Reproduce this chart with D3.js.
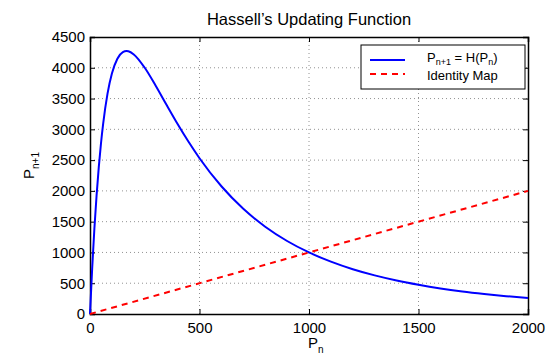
<!DOCTYPE html>
<html><head><meta charset="utf-8">
<script src="https://cdn.jsdelivr.net/npm/d3@7"></script>
<style>body{margin:0;background:#fff}svg{font-family:"Liberation Sans",Arial,sans-serif}</style>
</head><body><svg id="c" width="547" height="358"></svg>
<script>
const pn = [0,10,20,30,40,50,60,80,100,125,150,167,175,200,250,300,350,400,450,500,600,700,800,900,1000,1100,1200,1300,1400,1500,1600,1700,1800,1900,2000];
const hVals = [0,748,1385,1925,2381,2766,3089,3579,3906,4147,4254,4271,4268,4217,4000,3708,3394,3086,2797,2531,2075,1709,1418,1186,1000,850,727,627,544,475,416,367,326,290,259];
const identX = [0,2000];
const identY = [0,2000];
const xTicks = [0,500,1000,1500,2000];
const yTicks = [0,500,1000,1500,2000,2500,3000,3500,4000,4500];

const svg = d3.select("#c");
const L=90,R=528,T=37,B=314;
const x = d3.scaleLinear().domain([0,2000]).range([L,R]);
const y = d3.scaleLinear().domain([0,4500]).range([B,T]);

// grid
const g = svg.append("g");
g.selectAll(".gx").data(xTicks.slice(1,-1)).join("line")
 .attr("x1",d=>x(d)).attr("x2",d=>x(d)).attr("y1",T).attr("y2",B)
 .attr("stroke","#777").attr("stroke-width",0.8).attr("stroke-dasharray","1,3");
g.selectAll(".gy").data(yTicks.slice(1,-1)).join("line")
 .attr("y1",d=>y(d)).attr("y2",d=>y(d)).attr("x1",L).attr("x2",R)
 .attr("stroke","#777").attr("stroke-width",0.8).attr("stroke-dasharray","1,3");

// axes
const ax = svg.append("g").attr("transform",`translate(0,${B})`)
 .call(d3.axisBottom(x).tickValues(xTicks).tickSize(-5).tickPadding(8).tickFormat(d3.format("d")));
const ay = svg.append("g").attr("transform",`translate(${L},0)`)
 .call(d3.axisLeft(y).tickValues(yTicks).tickSize(-5).tickPadding(5).tickFormat(d3.format("d")));
const axT = svg.append("g").attr("transform",`translate(0,${T})`)
 .call(d3.axisTop(x).tickValues(xTicks).tickSize(-5).tickFormat(""));
const ayR = svg.append("g").attr("transform",`translate(${R},0)`)
 .call(d3.axisRight(y).tickValues(yTicks).tickSize(-5).tickFormat(""));
[ax,ay,axT,ayR].forEach(a=>{
  a.selectAll("text").attr("font-size",15).attr("fill","#000").attr("font-family","Liberation Sans, Arial, sans-serif");
  a.select(".domain").attr("stroke","#000").attr("stroke-width",1.5);
  a.selectAll(".tick line").attr("stroke","#000");
});

// lines
const line = d3.line().x(d=>x(d[0])).y(d=>y(d[1])).curve(d3.curveMonotoneX);
svg.append("path").datum(pn.map((p,i)=>[p,hVals[i]])).attr("d",line)
 .attr("fill","none").attr("stroke","#0000ff").attr("stroke-width",2);
svg.append("path").datum(identX.map((p,i)=>[p,identY[i]])).attr("d",line)
 .attr("fill","none").attr("stroke","#ff0000").attr("stroke-width",2).attr("stroke-dasharray","6,5");

// title & labels
svg.append("text").attr("x",309).attr("y",25).attr("text-anchor","middle").attr("font-size",16.5).text("Hassell\u2019s Updating Function");
const xl = svg.append("text").attr("x",308).attr("y",348).attr("font-size",15);
xl.append("tspan").text("P");
xl.append("tspan").attr("font-size",10).attr("dy",5).text("n");
const yl = svg.append("text").attr("transform","translate(34,179) rotate(-90)").attr("font-size",15);
yl.append("tspan").text("P");
yl.append("tspan").attr("font-size",10).attr("dy",5).text("n+1");

// legend
const lg = svg.append("g");
lg.append("rect").attr("x",361).attr("y",45).attr("width",164).attr("height",44).attr("fill","#fff").attr("stroke","#000").attr("stroke-width",1);
lg.append("line").attr("x1",370).attr("x2",405).attr("y1",60).attr("y2",60).attr("stroke","#0000ff").attr("stroke-width",2);
lg.append("line").attr("x1",370).attr("x2",405).attr("y1",74).attr("y2",74).attr("stroke","#ff0000").attr("stroke-width",2).attr("stroke-dasharray","6,5");
const t1 = lg.append("text").attr("x",427).attr("y",62).attr("font-size",13);
t1.append("tspan").text("P");
t1.append("tspan").attr("font-size",9).attr("dy",3).text("n+1");
t1.append("tspan").attr("dy",-3).text(" = H(P");
t1.append("tspan").attr("font-size",9).attr("dy",3).text("n");
t1.append("tspan").attr("dy",-3).text(")");
lg.append("text").attr("x",427).attr("y",80).attr("font-size",13).text("Identity Map");
</script></body></html>
